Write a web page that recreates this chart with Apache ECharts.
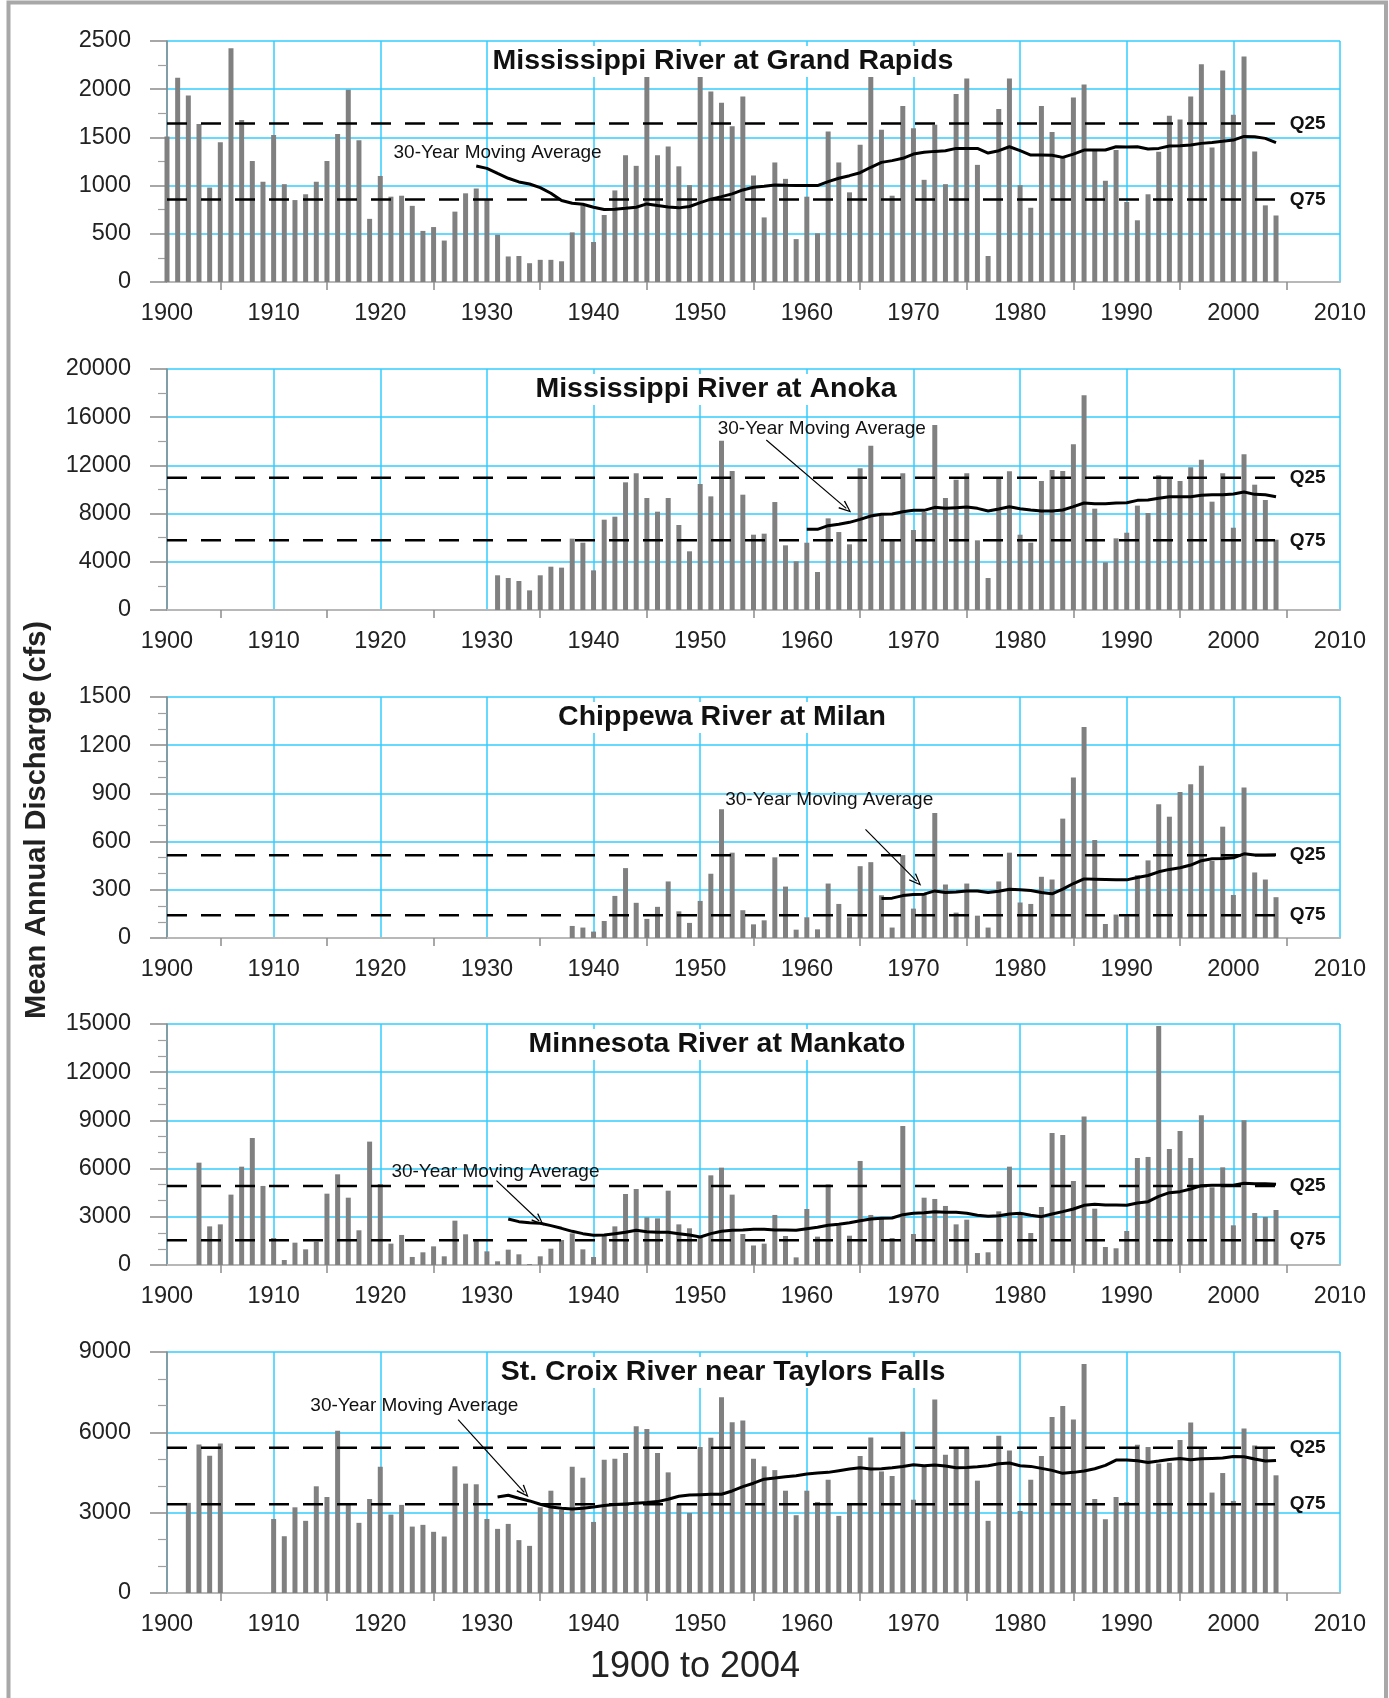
<!DOCTYPE html>
<html><head><meta charset="utf-8">
<script src="https://cdn.jsdelivr.net/npm/echarts@6/dist/echarts.min.js"></script>
<style>html,body{margin:0;padding:0;background:#fff}#c{width:1389px;height:1698px}</style>
</head><body><div id="c"></div><script>
// ---------------- DATA ----------------
const panelTitles = ['Mississippi River at Grand Rapids','Mississippi River at Anoka','Chippewa River at Milan','Minnesota River at Mankato','St. Croix River near Taylors Falls'];
const yMax = [2500, 20000, 1500, 15000, 9000];
const yStep = [500, 4000, 300, 3000, 3000];

const grandRapidsStart = 1900;
const grandRapids = [1510,2120,1935,1640,980,1450,2425,1680,1255,1040,
 1525,1015,850,910,1040,1255,1535,1995,1470,655,
 1100,885,895,790,530,570,430,730,920,970,
 860,490,265,270,195,230,230,215,515,795,
 415,695,950,1315,1205,2145,1315,1405,1200,1005,
 2145,1975,1860,1615,1925,1105,670,1240,1070,445,
 885,505,1560,1240,930,1425,2145,1580,895,1825,
 1595,1060,1630,1015,1950,2110,1215,270,1795,2110,
 1005,770,1825,1555,1290,1915,2050,1360,1050,1370,
 830,640,910,1350,1725,1685,1925,2260,1395,2195,
 1735,2340,1355,795,690];
const grandRapidsMAStart = 1929;
const grandRapidsMA = [1203,1179,1127,1076,1038,1017,979,921,845,817,807,
 776,752,755,765,776,810,793,779,769,783,
 824,859,886,914,955,983,993,1007,1003,1000,
 1000,1000,1041,1076,1103,1134,1190,1241,1259,1283,
 1327,1345,1355,1362,1386,1386,1386,1338,1362,1403,
 1362,1317,1317,1314,1293,1327,1369,1369,1369,1403,
 1400,1403,1379,1386,1410,1414,1421,1438,1448,1459,
 1472,1510,1507,1490,1445];

const anokaStart = 1931;
const anoka = [2880,2655,2405,1630,2880,3595,3515,5920,5585,3290,
 7495,7745,10595,11340,9295,8160,9295,7055,4870,10455,
 9430,14050,11535,9570,6250,6335,8960,5365,4040,5585,
 3155,7605,6470,5450,11755,13635,7855,5755,11340,6640,
 8130,15350,9295,10815,11340,5780,2655,10925,11505,6250,
 5585,10705,11615,11535,13745,17815,8410,3955,5945,6415,
 8660,8050,11175,11010,10705,11840,12475,8990,11340,6830,
 12915,10400,9130,5835];
const anokaMAStart = 1960;
const anokaMA = [6694,6694,6998,7109,7275,7524,7800,7938,7966,8160,
 8270,8270,8519,8436,8492,8547,8436,8215,8381,8575,
 8409,8298,8215,8215,8298,8575,8879,8824,8824,8879,
 8907,9100,9128,9266,9404,9404,9404,9515,9570,9570,
 9626,9792,9598,9570,9404];

const chippewaStart = 1938;
const chippewa = [75,65,40,106,262,435,219,119,194,352,166,94,
 231,400,801,531,173,85,110,502,320,52,
 129,54,339,212,129,447,472,266,65,516,
 183,270,778,333,158,339,139,65,352,531,
 221,212,381,364,743,999,1313,610,87,146,
 135,391,483,832,755,909,957,1072,480,693,
 268,936,408,364,254];
const chippewaMAStart = 1967;
const chippewaMA = [246,248,264,
 271,273,293,283,287,293,293,283,291,304,
 300,296,283,275,304,339,368,366,364,362,
 362,377,389,412,427,437,454,481,493,495,
 499,524,516,516,518];

const mankatoStart = 1903;
const mankato = [6370,2405,2530,4380,6120,7905,4920,
 1680,310,1390,975,1455,4440,5645,4190,2160,7680,
 5040,1330,1870,500,790,1160,540,2760,1910,1535,
 850,230,955,665,60,540,1015,1555,1970,975,
 500,1805,2405,4420,4730,2965,2905,4625,2530,2285,
 1765,5580,6060,4380,1930,1215,1330,3115,1805,475,
 3485,1765,5020,2450,1825,6475,3115,2865,1680,8655,
 1930,4190,4110,3675,2530,2820,745,790,3340,6120,
 3195,1990,3610,8215,8095,5230,9235,3505,1120,1040,
 2115,6660,6725,14880,7220,8340,6660,9315,4835,6080,
 2470,9005,3235,2990,3425];
const mankatoMAStart = 1932;
const mankatoMA = [2864,2698,2635,2594,2449,2283,2096,1951,
 1847,1868,1951,2034,2158,2075,2034,2034,1951,1868,
 1743,1951,2096,2158,2179,2220,2220,2179,2179,2158,
 2262,2345,2469,2532,2635,2760,2864,2905,2926,3133,
 3216,3258,3320,3279,3279,3216,3092,3030,3071,3175,
 3216,3092,3009,3175,3320,3486,3714,3777,3735,3735,
 3714,3860,3943,4275,4503,4565,4731,4939,4959,4959,
 4959,5084,5063,5063,5022];

const stCroixStart = 1902;
const stCroix = [3365,5545,5125,5585,null,null,null,null,
 2765,2120,3200,2695,3985,3585,6055,3290,2620,3510,
 4715,2930,3290,2480,2545,2285,2110,4730,4085,4060,
 2765,2395,2580,1975,1760,3200,3820,3105,4715,4305,
 2655,4975,5015,5225,6230,6120,5225,4505,3340,2990,
 5450,5795,7310,6380,6440,5015,4730,4590,3820,2905,
 3820,3400,4230,2880,3325,5115,5810,4540,4370,6020,
 3485,4740,7225,5165,5410,5435,4195,2695,5870,5325,
 3065,4230,5115,6575,6985,6480,8550,3510,2755,3585,
 3400,5535,5450,4840,4865,5710,6365,5450,3750,4480,
 3440,6145,5510,5425,4395];
const stCroixMAStart = 1931;
const stCroixMA = [3586,3649,3537,3438,3313,3214,3165,3140,3165,
 3214,3264,3301,3326,3351,3376,3413,3500,3611,3661,
 3673,3686,3686,3810,3971,4100,4250,4294,4344,4381,
 4443,4480,4505,4567,4629,4679,4629,4641,4679,4728,
 4790,4753,4778,4741,4679,4691,4716,4753,4827,4852,
 4753,4728,4654,4579,4468,4505,4554,4641,4765,4964,
 4964,4939,4877,4927,4989,5026,4976,5014,5026,5038,
 5101,5088,5001,4927,4952];

const q25 = [1645, 10980, 515, 4920, 5420];
const q75 = [855, 5780, 142, 1540, 3315];

// annotation anchors (data space)
const noteAt = [[1931.0,1344],[1961.4,15046],[1962.1,863],[1930.8,5826],[1923.2,6978]];
const arrowFrom = [null,[1956.2,14107],[1965.5,676],[1930.9,5250],[1927.3,6478]];
const arrowTo = [null,[1963.7,8436],[1970.3,354],[1934.9,2739],[1933.5,3760]];

// ---------------- BUILD ----------------
const barStarts = [grandRapidsStart, anokaStart, chippewaStart, mankatoStart, stCroixStart];
const bars = [grandRapids, anoka, chippewa, mankato, stCroix];
const maStarts = [grandRapidsMAStart, anokaMAStart, chippewaMAStart, mankatoMAStart, stCroixMAStart];
const mas = [grandRapidsMA, anokaMA, chippewaMA, mankatoMA, stCroixMA];
const minorSplit = [2,2,3,3,3];

const FONT = '"Liberation Sans", Arial, sans-serif';
const CYAN = '#33CCFF';
const tops = [41, 369, 697, 1024, 1352];
const GL = 167, GW = 1173, GH = 241;
const ARROW = 'path://M5,0 L10,12 L8.8,12.7 L5,3 L1.2,12.7 L0,12 Z';

function pairs(start, arr){ return arr.map((v,i)=>[start+i, v]); }

const grid = [], xAxis = [], yAxis = [], series = [], graphic = [];
for (let i = 0; i < 5; i++) {
  grid.push({left: GL, top: tops[i], width: GW, height: GH, outerBoundsMode: 'none', containLabel: false});
  xAxis.push({gridIndex: i, type: 'value', min: 1900, max: 2010, interval: 10,
    axisLine: {show: true, onZero: false, lineStyle: {color: '#b8b8b8', width: 2}},
    axisTick: {show: false},
    minorTick: {show: true, splitNumber: 2, length: 8, lineStyle: {color: '#8c8c8c', width: 1.5}},
    minorSplitLine: {show: false},
    axisLabel: {fontSize: 23.5, color: '#222', margin: 20, fontFamily: FONT, formatter: v => String(v)},
    splitLine: {show: true, lineStyle: {color: CYAN, width: 1.5}}});
  yAxis.push({gridIndex: i, type: 'value', min: 0, max: yMax[i], interval: yStep[i],
    axisLine: {show: true, lineStyle: {color: '#8a8a8a', width: 1.5}},
    axisTick: {show: true, length: 17, lineStyle: {color: '#8a8a8a', width: 1.5}},
    minorTick: {show: true, splitNumber: minorSplit[i], length: 9, lineStyle: {color: '#a0a0a0', width: 1.2}},
    minorSplitLine: {show: false},
    axisLabel: {fontSize: 23.5, color: '#222', margin: 36, fontFamily: FONT, formatter: v => String(v)},
    splitLine: {show: true, lineStyle: {color: CYAN, width: 1.5}}});

  series.push({type: 'bar', xAxisIndex: i, yAxisIndex: i, data: pairs(barStarts[i], bars[i]),
    barWidth: 5, itemStyle: {color: '#808080'}, silent: true, z: 2});
  [['Q25', q25[i]], ['Q75', q75[i]]].forEach(([name, q]) => {
    series.push({type: 'line', xAxisIndex: i, yAxisIndex: i, data: [[1900, q], [2005, q]],
      symbol: 'none', silent: true, z: 3,
      lineStyle: {color: '#000', width: 2.5, type: [20, 14]},
      endLabel: {show: true, formatter: name, distance: 3, fontSize: 19, fontWeight: 'bold', color: '#111', fontFamily: FONT}});
  });
  const ma = {type: 'line', xAxisIndex: i, yAxisIndex: i, data: pairs(maStarts[i], mas[i]),
    symbol: 'none', silent: true, z: 4, lineStyle: {color: '#000', width: 3},
    markPoint: {silent: true, symbol: 'circle', symbolSize: 1, itemStyle: {color: 'rgba(0,0,0,0)'},
      data: [{coord: noteAt[i], label: {show: true, position: 'inside', formatter: '30-Year Moving Average',
        fontSize: 19, color: '#111', fontFamily: FONT}}]}};
  if (arrowFrom[i]) {
    ma.markLine = {silent: true, symbol: ['none', ARROW], symbolSize: [10, 13], label: {show: false},
      lineStyle: {color: '#000', width: 1.2, type: 'solid'},
      data: [[{coord: arrowFrom[i]}, {coord: arrowTo[i]}]]};
  }
  series.push(ma);

  graphic.push({type: 'text', x: [723, 716, 722, 717, 723][i], y: tops[i] + 20.5, z: 50,
    style: {text: panelTitles[i], font: 'bold 28.5px ' + FONT, fill: '#111', align: 'center', verticalAlign: 'middle',
      backgroundColor: '#fff', padding: [1, 4]}});
}

graphic.push({type: 'text', x: 37, y: 820, rotation: Math.PI / 2, z: 50,
  style: {text: 'Mean Annual Discharge (cfs)', font: 'bold 29px ' + FONT, fill: '#222', align: 'center', verticalAlign: 'middle'}});
graphic.push({type: 'text', x: 695, y: 1667, z: 50,
  style: {text: '1900 to 2004', font: '36px ' + FONT, fill: '#222', align: 'center', verticalAlign: 'middle'}});
graphic.push({type: 'polyline', z: 50, shape: {points: [[8.5, 1698], [8.5, 2.5], [1386, 2.5], [1386, 1698]]},
  style: {fill: 'none', stroke: '#a8a8a8', lineWidth: 4}});

const chart = echarts.init(document.getElementById('c'), null, {renderer: 'canvas'});
chart.setOption({animation: false, backgroundColor: '#fff', grid, xAxis, yAxis, series, graphic});
</script></body></html>
